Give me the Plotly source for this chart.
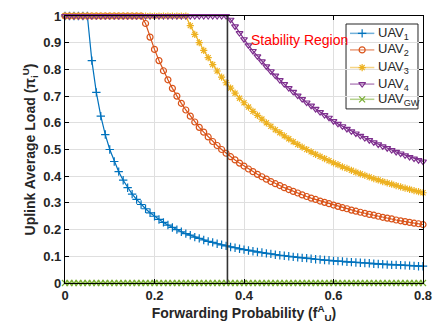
import plotly.graph_objects as go

x_vals = [round(i * 0.01, 2) for i in range(81)]

uav1 = [1, 1, 1, 1, 1, 1, 0.833, 0.714, 0.625, 0.556, 0.5, 0.455, 0.417, 0.385, 0.357, 0.333,
        0.313, 0.294, 0.278, 0.263, 0.25, 0.238, 0.227, 0.217, 0.208, 0.2, 0.192, 0.185, 0.179,
        0.172, 0.167, 0.161, 0.156, 0.152, 0.147, 0.143, 0.139, 0.135, 0.132, 0.128, 0.125,
        0.122, 0.119, 0.116, 0.114, 0.111, 0.109, 0.106, 0.104, 0.102, 0.1, 0.098, 0.096,
        0.094, 0.093, 0.091, 0.089, 0.088, 0.086, 0.085, 0.083, 0.082, 0.081, 0.079, 0.078,
        0.077, 0.076, 0.075, 0.074, 0.072, 0.071, 0.070, 0.069, 0.068, 0.068, 0.067, 0.066,
        0.065, 0.064, 0.063, 0.063]

uav2 = [1] * 18 + [0.972, 0.921, 0.875, 0.833, 0.795, 0.761, 0.729, 0.7, 0.673, 0.648, 0.625,
        0.603, 0.583, 0.565, 0.547, 0.530, 0.515, 0.5, 0.486, 0.473, 0.461, 0.449, 0.438,
        0.427, 0.417, 0.407, 0.398, 0.389, 0.380, 0.372, 0.365, 0.357, 0.35, 0.343, 0.337,
        0.330, 0.324, 0.318, 0.313, 0.307, 0.302, 0.297, 0.292, 0.287, 0.282, 0.278, 0.273,
        0.269, 0.265, 0.261, 0.257, 0.254, 0.25, 0.246, 0.243, 0.240, 0.236, 0.233, 0.230,
        0.227, 0.224, 0.222, 0.219]

uav3 = [1] * 28 + [0.964, 0.931, 0.9, 0.871, 0.844, 0.818, 0.794, 0.771, 0.75, 0.730, 0.711,
        0.692, 0.675, 0.659, 0.643, 0.628, 0.614, 0.6, 0.587, 0.574, 0.563, 0.551, 0.54,
        0.529, 0.519, 0.509, 0.5, 0.491, 0.482, 0.474, 0.466, 0.458, 0.45, 0.443, 0.435,
        0.429, 0.422, 0.415, 0.409, 0.403, 0.397, 0.391, 0.386, 0.380, 0.375, 0.370, 0.365,
        0.36, 0.355, 0.351, 0.346, 0.342, 0.338]

uav4 = [1] * 37 + [0.986, 0.961, 0.936, 0.913, 0.890, 0.869, 0.849, 0.830, 0.811, 0.793,
        0.777, 0.760, 0.745, 0.73, 0.716, 0.702, 0.689, 0.676, 0.664, 0.652, 0.640, 0.629,
        0.619, 0.606, 0.596, 0.587, 0.577, 0.568, 0.560, 0.551, 0.543, 0.535, 0.527, 0.519,
        0.512, 0.505, 0.498, 0.491, 0.485, 0.478, 0.472, 0.466, 0.460, 0.455]

uav_gw = [0] * 81

series_names = ["UAV<sub>1</sub>", "UAV<sub>2</sub>", "UAV<sub>3</sub>", "UAV<sub>4</sub>", "UAV<sub>GW</sub>"]
series_values = [uav1, uav2, uav3, uav4, uav_gw]
colors = ["#0072BD", "#D95319", "#EDB120", "#7E2F8E", "#77AC30"]
symbols = ["cross-thin-open", "circle-open", "asterisk-open", "triangle-down-open", "x-thin-open"]

stability_x = 0.363

fig = go.Figure()
for name, ys, color, sym in zip(series_names, series_values, colors, symbols):
    fig.add_trace(go.Scatter(
        x=x_vals, y=ys, name=name, mode="lines+markers", showlegend=False,
        line=dict(color=color, width=1.2),
        marker=dict(symbol=sym, size=6, color=color, line=dict(color=color, width=1.2)),
        cliponaxis=False,
    ))

fig.add_shape(type="line", x0=stability_x, x1=stability_x, y0=0, y1=1,
              xref="x", yref="y", line=dict(color="#333333", width=1.6))

fig.add_annotation(x=0.412, y=0.91, xref="x", yref="y", text="Stability Region",
                   showarrow=False, xanchor="left", yanchor="middle",
                   font=dict(color="#FF0000", size=14, family="Liberation Sans, Arial"))

# ---- legend box (MATLAB style), drawn in paper coordinates on an overlay axis ----
leg_x0, leg_x1, leg_y0, leg_y1 = 0.785, 0.986, 0.652, 0.970
fig.add_shape(type="rect", xref="paper", yref="paper", x0=leg_x0, x1=leg_x1, y0=leg_y0, y1=leg_y1,
              fillcolor="white", line=dict(color="#262626", width=1), layer="between")
item_y = [0.935, 0.873, 0.807, 0.745, 0.688]
line_x0, line_x1 = 0.796, 0.864
for name, color, sym, yy in zip(series_names, colors, symbols, item_y):
    fig.add_trace(go.Scatter(
        x=[line_x0, line_x1], y=[yy, yy], xaxis="x2", yaxis="y2", mode="lines",
        line=dict(color=color, width=1.5), opacity=0.55, showlegend=False, hoverinfo="skip",
        cliponaxis=False,
    ))
    fig.add_trace(go.Scatter(
        x=[(line_x0 + line_x1) / 2], y=[yy], xaxis="x2", yaxis="y2", mode="markers",
        marker=dict(symbol=sym, size=6, color=color, line=dict(color=color, width=1.2)),
        showlegend=False, hoverinfo="skip", cliponaxis=False,
    ))
    fig.add_annotation(x=0.868, y=yy, xref="paper", yref="paper", text=name,
                       showarrow=False, xanchor="left", yanchor="middle",
                       font=dict(size=13, family="Liberation Sans, Arial", color="#262626"))

axis_common = dict(
    showgrid=True, gridcolor="#DFDFDF", gridwidth=1,
    showline=True, linecolor="black", linewidth=1.2, mirror="ticks",
    ticks="inside", ticklen=4, tickcolor="black",
    zeroline=False,
    tickfont=dict(family="Liberation Sans, Arial", size=13, color="#262626"),
)

fig.update_layout(
    width=441, height=331,
    margin=dict(l=65, r=9, t=13, b=48),
    paper_bgcolor="white", plot_bgcolor="white",
    font=dict(family="Liberation Sans, Arial", color="#262626"),
    showlegend=False,
    xaxis=dict(range=[0, 0.8], tickvals=[0, 0.2, 0.4, 0.6, 0.8],
               ticktext=["<b>0</b>", "<b>0.2</b>", "<b>0.4</b>", "<b>0.6</b>", "<b>0.8</b>"],
               title=dict(text="<b>Forwarding Probability (f<sup>A</sup><sub>U</sub>)</b>",
                          font=dict(size=14), standoff=6),
               **axis_common),
    yaxis=dict(range=[0, 1], tickvals=[i / 10 for i in range(11)],
               ticktext=["<b>0</b>"] + ["<b>0.%d</b>" % i for i in range(1, 10)] + ["<b>1</b>"],
               title=dict(text="<b>Uplink Average Load (π<sub>i</sub><sup>U</sup>)</b>",
                          font=dict(size=14), standoff=4),
               **axis_common),
    xaxis2=dict(range=[0, 1], overlaying="x", visible=False, fixedrange=True),
    yaxis2=dict(range=[0, 1], overlaying="y", visible=False, fixedrange=True, anchor="x2"),
)

fig.write_html("out.html")
